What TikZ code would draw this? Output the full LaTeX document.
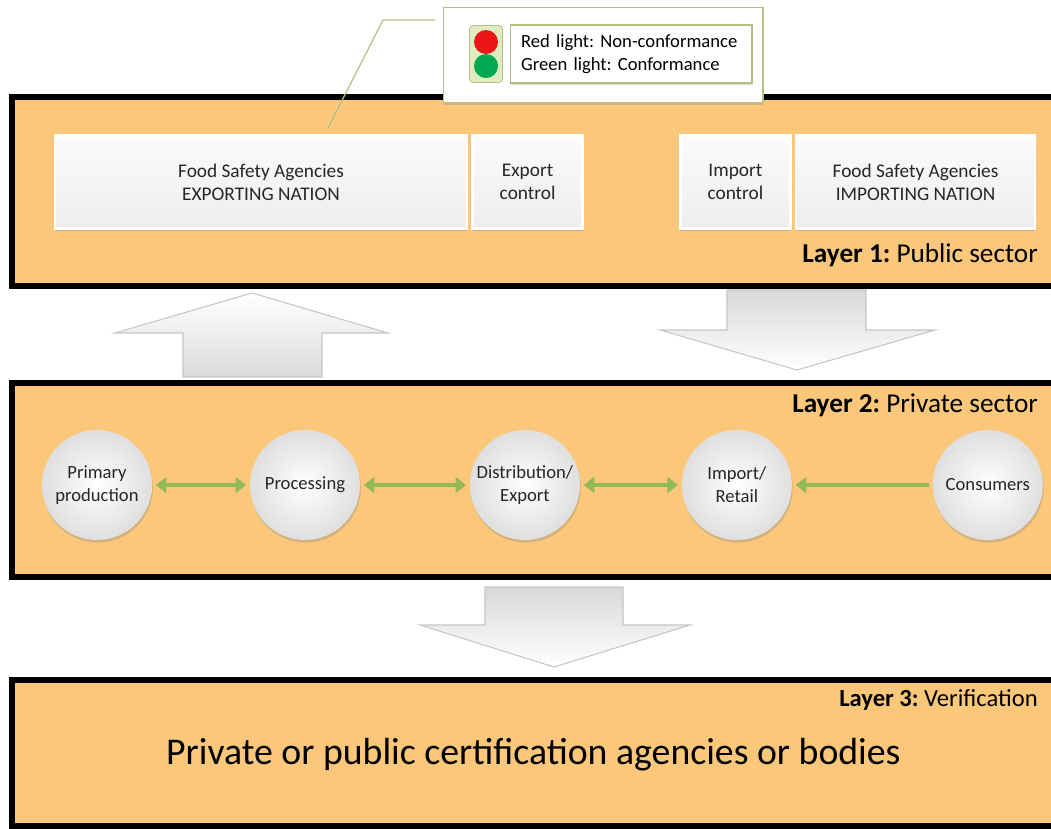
\documentclass[tikz,border=0pt]{standalone}
\usepackage{fontspec}
\setmainfont{Carlito}
\frenchspacing
\usetikzlibrary{
    arrows.meta,
    positioning,
    shadows
}
\definecolor{layerfill}{RGB}{251,199,122}
\definecolor{linkgreen}{RGB}{146,184,88}
\definecolor{legendline}{RGB}{178,192,130}
\definecolor{lightcase}{RGB}{222,236,192}
\definecolor{lampred}{RGB}{236,22,22}
\definecolor{lampgreen}{RGB}{0,168,80}
\tikzset{
    layer/.style = {
        fill=layerfill,
        draw=black,
        line width=3.4pt
    },
    agency/.style = {
        rectangle,
        draw=white,
        line width=1.5pt,
        top color=gray!3,
        bottom color=gray!14,
        minimum height=1.86cm,
        align=center,
        text=black!85,
        font=\fontsize{11}{13}\selectfont,
        drop shadow={opacity=0.35, shadow xshift=0pt, shadow yshift=-1.5pt}
    },
    stage/.style = {
        circle,
        minimum size=2.2cm,
        inner sep=0pt,
        on grid,
        inner color=white,
        outer color=gray!25,
        align=center,
        text=black!85,
        font=\fontsize{10.6}{13}\selectfont,
        drop shadow={opacity=0.3, shadow xshift=0.5pt, shadow yshift=-1.5pt}
    },
    link/.style = {
        draw=linkgreen,
        line width=2pt,
        shorten >=2pt,
        shorten <=2pt
    },
    bigarrow/.style = {
        draw=gray!45,
        line width=0.6pt
    },
    layerlabel/.style = {
        anchor=east,
        font=\fontsize{15.5}{18}\selectfont
    },
    lamp/.style = {
        circle,
        minimum size=0.48cm,
        inner sep=0pt
    }
}
\begin{document}
\begin{tikzpicture}[x=0.02cm, y=-0.02cm, >={Triangle[length=6pt,width=9pt]}]
\useasboundingbox (0,0) rectangle (1051,828);
\clip (0,0) rectangle (1051,828);

\draw[layer] (12,97) rectangle (1068,286);
\draw[layer] (12,383) rectangle (1068,577);
\draw[layer] (12,680) rectangle (1068,826);

\draw[bigarrow, top color=white, bottom color=gray!28] (183,377) -- (183,333) -- (115,333) -- (252,293) -- (388,333) -- (322,333) -- (322,377) -- cycle;
\draw[bigarrow, top color=gray!30, bottom color=white] (727,290) -- (727,330) -- (660,330) -- (797,370) -- (935,330) -- (866,330) -- (866,290) -- cycle;
\draw[bigarrow, top color=gray!30, bottom color=white] (485,587) -- (485,625) -- (420,625) -- (554,667) -- (690,625) -- (623,625) -- (623,587) -- cycle;

\node (expnat) [agency, minimum width=8.24cm] at (261,182) {Food Safety Agencies\\EXPORTING NATION};
\node (expctl) [agency, minimum width=2.2cm, right=0.06cm of expnat] {Export\\control};
\node (impnat) [agency, minimum width=4.78cm] at (915.5,182) {Food Safety Agencies\\IMPORTING NATION};
\node (impctl) [agency, minimum width=2.2cm, left=0.06cm of impnat] {Import\\control};

\node (lab1) [layerlabel] at (1044,255) {\textbf{Layer 1:} Public sector};
\node (lab2) [layerlabel] at (1044,405) {\textbf{Layer 2:} Private sector};
\node (lab3) [layerlabel, font=\fontsize{14}{17}\selectfont] at (1044,700) {\textbf{Layer 3:} Verification};

\node (primary) [stage] at (97,485) {Primary\\production};
\node (processing) [stage, right=4.16cm of primary] {Processing};
\node (distribution) [stage, right=4.4cm of processing] {Distribution/\\Export};
\node (retail) [stage, right=4.24cm of distribution] {Import/\\Retail};
\node (consumers) [stage, right=5.02cm of retail] {Consumers};

\draw[link, <->] (primary) -- (processing);
\draw[link, <->] (processing) -- (distribution);
\draw[link, <->] (distribution) -- (retail);
\draw[link, ->] (consumers) -- (retail);

\node (certbody) [anchor=west, font=\fontsize{21.5}{26}\selectfont] at (160,755) {Private or public certification agencies or bodies};

\coordinate (callout) at (435,20);
\coordinate (elbow) at (383,20);
\coordinate (pointer) at (328,128);
\draw[legendline, line width=0.7pt] (callout) -- (elbow) -- (pointer);

\node (legend) [fill=white, draw=legendline, line width=0.6pt, minimum width=6.4cm, minimum height=1.9cm, drop shadow={opacity=0.3, shadow xshift=0pt, shadow yshift=-1.5pt}] at (603,55) {};
\node (lights) [rounded corners=2pt, fill=lightcase, draw=legendline, minimum width=0.66cm, minimum height=1.14cm] at (486,54) {};
\node (redlamp) [lamp, fill=lampred] at (486,42) {};
\node (greenlamp) [lamp, fill=lampgreen] at (486,66) {};
\node (legtext) [fill=white, draw=legendline, line width=0.6pt, text width=4.4cm, inner xsep=0.22cm, minimum height=1.16cm, align=left, font=\fontsize{10.6}{13}\selectfont, drop shadow={opacity=0.25, shadow xshift=0.5pt, shadow yshift=-1pt}] at (631,54) {Red light: Non-conformance\\Green light: Conformance};
\end{tikzpicture}
\end{document}
